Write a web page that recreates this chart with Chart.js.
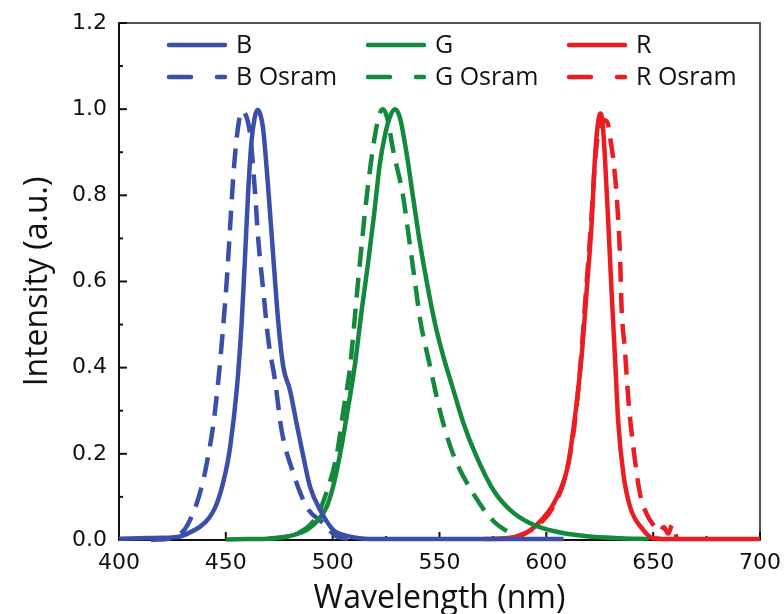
<!DOCTYPE html>
<html>
<head>
<meta charset="utf-8">
<script src="https://cdn.jsdelivr.net/npm/chart.js@4.4.1/dist/chart.umd.min.js"></script>
<style>
  html, body { margin: 0; padding: 0; background: #fff; }
  #wrap { width: 784px; height: 614px; position: relative; }
</style>
</head>
<body>
<div id="wrap"><canvas id="spec"></canvas></div>
<script>
// espectros normalizados dos LEDs (nm, intensidade)
const bWl = [400, 410, 420, 425, 428.5, 433, 438, 442, 445, 447.5, 450, 452, 455.1, 457.4, 459, 460.5, 462.1, 463.5, 464.7, 466, 467.5, 469.9, 472.2, 474.6, 476.9, 480, 483.1, 486.3, 489.4, 494.1, 500.3, 505, 510, 515, 525, 540, 560, 580, 608];
const bInt = [0.003, 0.004, 0.005, 0.006, 0.008, 0.017, 0.031, 0.05, 0.075, 0.11, 0.16, 0.215, 0.348, 0.503, 0.658, 0.812, 0.929, 0.98, 0.998, 0.99, 0.952, 0.812, 0.658, 0.503, 0.402, 0.348, 0.271, 0.193, 0.124, 0.07, 0.023, 0.012, 0.006, 0.003, 0.002, 0.002, 0.002, 0.002, 0.002];

const bOsWl = [415, 425, 430, 433.2, 436.4, 439, 441.1, 444.2, 446.5, 448.5, 450.4, 452, 453.5, 455.5, 457.5, 459, 461.3, 463.6, 465.2, 467.5, 469.9, 473, 476.1, 481.6, 487.8, 495.6, 501.9, 510];
const bOsInt = [0.0, 0.005, 0.02, 0.046, 0.085, 0.13, 0.178, 0.27, 0.37, 0.48, 0.6, 0.725, 0.845, 0.95, 0.995, 0.99, 0.944, 0.812, 0.696, 0.58, 0.464, 0.371, 0.255, 0.155, 0.077, 0.039, 0.008, 0.002];

const gWl = [450, 460, 470, 475.3, 482, 487.8, 493, 497.2, 500, 503.5, 507, 510.5, 513.5, 516.5, 519.5, 522, 524.5, 527, 529.2, 531.5, 534.5, 537.5, 540.5, 544, 548, 551.8, 556.5, 561.2, 567.4, 575.2, 583, 592.4, 604.8, 620.4, 635, 648];
const gInt = [0.001, 0.002, 0.003, 0.005, 0.012, 0.023, 0.045, 0.077, 0.12, 0.2, 0.3, 0.41, 0.53, 0.64, 0.76, 0.87, 0.94, 0.985, 1.0, 0.98, 0.9, 0.8, 0.7, 0.6, 0.5, 0.426, 0.348, 0.271, 0.193, 0.116, 0.07, 0.039, 0.019, 0.008, 0.004, 0.002];

const gOsWl = [470, 480, 487, 492, 496.4, 502, 505, 508.1, 511.9, 516, 519.5, 522, 523.6, 525.5, 528.5, 532.9, 536, 538.5, 541, 545.5, 550.2, 556.3, 565.8, 575.2, 585];
const gOsInt = [0.003, 0.01, 0.025, 0.05, 0.1, 0.2, 0.3, 0.4, 0.6, 0.8, 0.93, 0.99, 1.0, 0.98, 0.9, 0.8, 0.69, 0.6, 0.51, 0.405, 0.3, 0.2, 0.108, 0.044, 0.01];

const rWl = [571, 580, 588, 595.5, 604, 610, 613, 616.5, 618.9, 621.2, 622.8, 624, 625.3, 626.3, 627.4, 629, 630.5, 632.1, 633.7, 636, 639.2, 645.4, 650.1, 660, 700];
const rInt = [0.002, 0.004, 0.01, 0.035, 0.09, 0.17, 0.27, 0.426, 0.58, 0.735, 0.89, 0.96, 0.99, 0.97, 0.89, 0.735, 0.58, 0.426, 0.271, 0.155, 0.077, 0.023, 0.004, 0.002, 0.002];

const rOsWl = [585, 595, 603, 609, 613, 616.2, 618.6, 621, 622.8, 624.5, 626.5, 628.5, 630, 631.4, 632.9, 634.5, 635.2, 636.8, 638.4, 640.7, 643.8, 647, 650.1, 653, 655, 657, 659, 661];
const rOsInt = [0.005, 0.03, 0.075, 0.15, 0.26, 0.42, 0.58, 0.74, 0.88, 0.95, 0.975, 0.97, 0.93, 0.88, 0.8, 0.658, 0.54, 0.44, 0.325, 0.216, 0.108, 0.06, 0.035, 0.02, 0.03, 0.015, 0.035, 0.005];

const seriesNames = ['B', 'G', 'R', 'B Osram', 'G Osram', 'R Osram'];
const xTicks = [400, 450, 500, 550, 600, 650, 700];
const yTicks = [0.0, 0.2, 0.4, 0.6, 0.8, 1.0, 1.2];

const BLUE = '#3b4fa9';
const GREEN = '#14893d';
const RED = '#ec1c24';
const DASH = [20, 11];

function pts(xs, ys) {
    return xs.map((x, i) => ({ x: x, y: ys[i] }));
}

function ds(label, xs, ys, color, dashed) {
    return {
        label: label,
        data: pts(xs, ys),
        borderColor: color,
        backgroundColor: color,
        borderWidth: 4.5,
        borderDash: dashed ? DASH : [],
        pointRadius: 0,
        cubicInterpolationMode: 'monotone',
        fill: false,
        clip: false
    };
}

// moldura + ticks para dentro (maiores e menores)
const frameTicks = {
    id: 'frameTicks',
    beforeDatasetsDraw(chart) {
        const { ctx, chartArea: a, scales } = chart;
        ctx.save();
        ctx.lineWidth = 2;
        ctx.strokeStyle = '#555';
        ctx.strokeRect(a.left, a.top, a.right - a.left, a.bottom - a.top);
        ctx.strokeStyle = '#111';
        ctx.beginPath();
        ctx.moveTo(a.left, a.top);
        ctx.lineTo(a.left, a.bottom);
        ctx.lineTo(a.right, a.bottom);
        ctx.stroke();
        for (let v = 400; v <= 700; v += 25) {
            const px = scales.x.getPixelForValue(v);
            const len = (v % 50 === 0) ? 8 : 4;
            ctx.beginPath();
            ctx.moveTo(px, a.bottom);
            ctx.lineTo(px, a.bottom - len);
            ctx.stroke();
        }
        for (let k = 0; k <= 12; k++) {
            const py = scales.y.getPixelForValue(k / 10);
            const len = (k % 2 === 0) ? 8 : 4;
            ctx.beginPath();
            ctx.moveTo(a.left, py);
            ctx.lineTo(a.left + len, py);
            ctx.stroke();
        }
        ctx.restore();
    }
};

// legenda em 3 colunas dentro do gráfico
const gridLegend = {
    id: 'gridLegend',
    afterDraw(chart) {
        const { ctx, chartArea: a } = chart;
        const cols = [48, 247, 448];
        const rows = [22, 54];
        ctx.save();
        ctx.font = '25px "Open Sans"';
        ctx.textBaseline = 'middle';
        ctx.fillStyle = '#111';
        chart.data.datasets.forEach((d, i) => {
            const x0 = a.left + cols[i % 3];
            const y0 = a.top + rows[Math.floor(i / 3)];
            ctx.strokeStyle = d.borderColor;
            ctx.lineWidth = 4.5;
            ctx.lineCap = 'round';
            ctx.beginPath();
            if (d.borderDash.length) {
                ctx.moveTo(x0 + 2, y0);
                ctx.lineTo(x0 + 24, y0);
                ctx.moveTo(x0 + 50, y0);
                ctx.lineTo(x0 + 58, y0);
            } else {
                ctx.moveTo(x0 + 2, y0);
                ctx.lineTo(x0 + 58, y0);
            }
            ctx.stroke();
            ctx.fillText(d.label, x0 + 69, y0 + 1);
        });
        ctx.restore();
    }
};

const ctx = document.getElementById('spec').getContext('2d');
new Chart(ctx, {
    type: 'line',
    data: {
        datasets: [
            ds(seriesNames[0], bWl, bInt, BLUE, false),
            ds(seriesNames[1], gWl, gInt, GREEN, false),
            ds(seriesNames[2], rWl, rInt, RED, false),
            ds(seriesNames[3], bOsWl, bOsInt, BLUE, true),
            ds(seriesNames[4], gOsWl, gOsInt, GREEN, true),
            ds(seriesNames[5], rOsWl, rOsInt, RED, true)
        ]
    },
    options: {
        responsive: true,
        maintainAspectRatio: false,
        animation: false,
        layout: { padding: { left: 18.8, right: 24, top: 23, bottom: 0 } },
        plugins: { legend: { display: false }, tooltip: { enabled: false } },
        scales: {
            x: {
                type: 'linear',
                min: 400,
                max: 700,
                afterBuildTicks: s => { s.ticks = xTicks.map(v => ({ value: v })); },
                // o rótulo "700" pode passar da margem direita
                afterFit: s => { s.paddingRight = 0; },
                grid: { display: false, drawTicks: false },
                border: { display: false },
                ticks: { font: { family: 'DejaVu Sans', size: 22 }, color: '#111', padding: 10, maxRotation: 0 },
                title: { display: true, text: 'Wavelength (nm)', font: { family: 'Open Sans', size: 32, lineHeight: 0.77 }, color: '#111', padding: { top: 0, bottom: 3 } }
            },
            y: {
                min: 0,
                max: 1.2,
                afterBuildTicks: s => { s.ticks = yTicks.map(v => ({ value: v })); },
                grid: { display: false, drawTicks: false },
                border: { display: false },
                ticks: { font: { family: 'DejaVu Sans', size: 22, lineHeight: 0.2 }, color: '#111', padding: 12, callback: v => v.toFixed(1) },
                title: { display: true, text: 'Intensity (a.u.)', font: { family: 'Open Sans', size: 32 }, color: '#111', padding: { top: 0, bottom: 2.8 } }
            }
        }
    },
    plugins: [frameTicks, gridLegend]
});
</script>
</body>
</html>
